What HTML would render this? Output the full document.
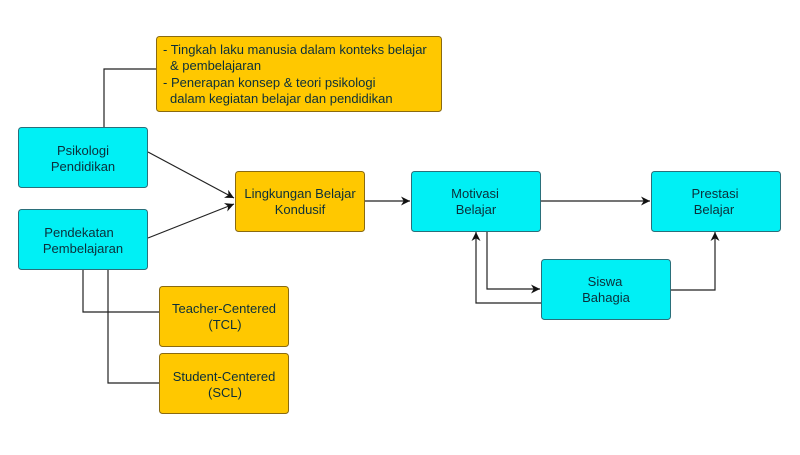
<!DOCTYPE html>
<html><head><meta charset="utf-8"><style>
html,body{margin:0;padding:0;background:#fff;}
svg text{font-family:"Liberation Sans",sans-serif;font-size:13px;fill:#0b2f3a;}
</style></head><body>
<svg width="800" height="450" viewBox="0 0 800 450" xmlns="http://www.w3.org/2000/svg">
<defs>
<marker id="a" viewBox="0 0 10 10" refX="10" refY="5" markerWidth="9" markerHeight="9" orient="auto" markerUnits="userSpaceOnUse">
<path d="M0,0 L10,5 L0,10 L3,5 z" fill="#111"/></marker>
</defs>
<g fill="none" stroke="#222" stroke-width="1.2">
<polyline points="104,127 104,69 156,69"/>
<polyline points="83,269 83,312 159,312"/>
<polyline points="108,269 108,383 159,383"/>
<line x1="148" y1="152" x2="234" y2="198" marker-end="url(#a)"/>
<line x1="148" y1="238" x2="234" y2="204" marker-end="url(#a)"/>
<line x1="364" y1="201" x2="410" y2="201" marker-end="url(#a)"/>
<line x1="540" y1="201" x2="650" y2="201" marker-end="url(#a)"/>
<polyline points="487,231 487,289 540,289" marker-end="url(#a)"/>
<polyline points="541,303 476,303 476,232" marker-end="url(#a)"/>
<polyline points="670,290 715,290 715,232" marker-end="url(#a)"/>
</g>
<g stroke="#2a6f7a" stroke-width="1" fill="#00f0f5">
<rect x="18.5" y="127.5" width="129" height="60" rx="3"/>
<rect x="18.5" y="209.5" width="129" height="60" rx="3"/>
<rect x="411.5" y="171.5" width="129" height="60" rx="3"/>
<rect x="651.5" y="171.5" width="129" height="60" rx="3"/>
<rect x="541.5" y="259.5" width="129" height="60" rx="3"/>
</g>
<g stroke="#8a6a10" stroke-width="1" fill="#ffc800">
<rect x="156.5" y="36.5" width="285" height="75" rx="3"/>
<rect x="235.5" y="171.5" width="129" height="60" rx="3"/>
<rect x="159.5" y="286.5" width="129" height="60" rx="3"/>
<rect x="159.5" y="353.5" width="129" height="60" rx="3"/>
</g>
<g text-anchor="middle">
<text x="83" y="155">Psikologi</text><text x="83" y="171">Pendidikan</text>
<text x="79" y="237">Pendekatan</text><text x="83" y="253">Pembelajaran</text>
<text x="300" y="198">Lingkungan Belajar</text><text x="300" y="214">Kondusif</text>
<text x="475" y="198">Motivasi</text><text x="476" y="214">Belajar</text>
<text x="715" y="198">Prestasi</text><text x="714" y="214">Belajar</text>
<text x="605" y="286">Siswa</text><text x="606" y="302">Bahagia</text>
<text x="224" y="313">Teacher-Centered</text><text x="225" y="329">(TCL)</text>
<text x="224" y="381">Student-Centered</text><text x="225" y="397">(SCL)</text>
</g>
<g>
<text x="163" y="54">- Tingkah laku manusia dalam konteks belajar</text>
<text x="170" y="70">&amp; pembelajaran</text>
<text x="163" y="87">- Penerapan konsep &amp; teori psikologi</text>
<text x="170" y="103">dalam kegiatan belajar dan pendidikan</text>
</g>
</svg>
</body></html>
